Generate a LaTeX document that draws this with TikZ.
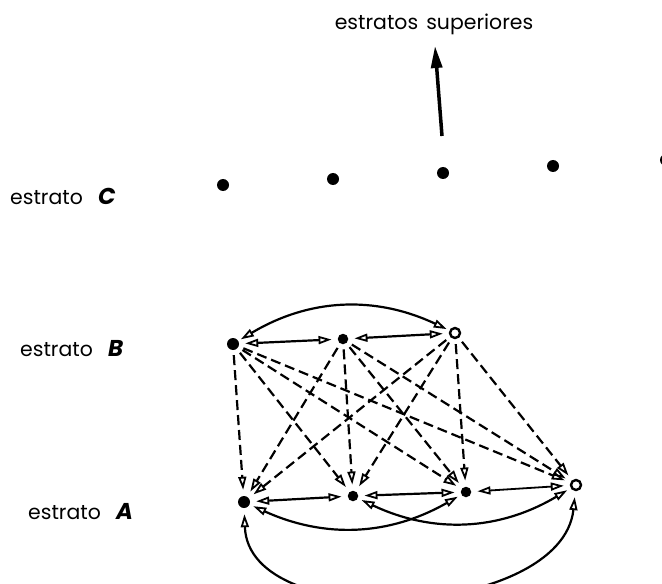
\documentclass[tikz,border=0pt]{standalone}
\usepackage{fontspec}
\setmainfont{Poppins}
\usetikzlibrary{arrows.meta}
\begin{document}
\begin{tikzpicture}[x=1bp,y=-1bp,
  dot/.style={circle,fill=black,inner sep=0pt,minimum size=12bp},
  sdot/.style={circle,fill=black,inner sep=0pt,minimum size=10.5bp},
  ring/.style={circle,draw=black,line width=2.4bp,fill=white,inner sep=0pt,minimum size=10bp},
  lbl/.style={font=\fontsize{20.5}{24}\selectfont,anchor=west,inner sep=0pt},
  ltr/.style={font=\fontsize{23}{24}\selectfont\bfseries\itshape},
  otip/.tip={Triangle[open,length=13bp,width=8bp,line width=1.8bp]},
  both/.style={line width=2.2bp,{otip}-{otip},shorten <=6bp,shorten >=6bp},
  dsh/.style={line width=2.2bp,dash pattern=on 10bp off 5bp,-{otip},shorten >=6bp,shorten <=5bp}
]
\useasboundingbox (0,0) rectangle (662,584);

% labels
\node[lbl] (lc) at (10,196) {estrato\hspace{0.75em}{\fontsize{23}{24}\selectfont\bfseries\itshape C}};
\node[lbl] (lb) at (20,349) {estrato\hspace{0.75em}{\fontsize{23}{24}\selectfont\bfseries\itshape B}};
\node[lbl] (la) at (28,512) {estrato\hspace{0.75em}{\fontsize{23}{24}\selectfont\bfseries\itshape A}};
\node[font=\fontsize{20.5}{24}\selectfont,inner sep=0pt] (sup) at (434,24) {estratos\hspace{0.4em}superiores};

% stratum C
\node[dot] (c1) at (223,185) {};
\node[dot] (c2) at (333,179) {};
\node[dot] (c3) at (443,173) {};
\node[dot] (c4) at (553,166) {};
\node[dot] (c5) at (666,160) {};

\coordinate (abase) at (442,136);
\coordinate (atip) at (435,46);
\draw[line width=3.5bp,-{Triangle[length=22bp,width=11bp]}] (abase) -- (atip);

% stratum B
\node[dot] (b1) at (233,344) {};
\node[sdot] (b2) at (343,339) {};
\node[ring] (b3) at (455,333) {};

% stratum A
\node[dot] (a1) at (244,502) {};
\node[sdot] (a2) at (353,496) {};
\node[sdot] (a3) at (466,492) {};
\node[ring] (a4) at (576,485) {};

% B edges
\draw[both] (b1) -- (b2);
\draw[both] (b2) -- (b3);
\draw[both,shorten <=3bp,shorten >=3bp] (b1) to[bend left=28] (b3);

% B -> A dashed
\foreach \b in {b1,b2,b3}{
  \foreach \a in {a1,a2,a3,a4}{
    \draw[dsh] (\b) -- (\a);
  }
}

% A edges
\draw[both] (a1) -- (a2);
\draw[both] (a2) -- (a3);
\draw[both,line width=1.8bp] (a3) -- (a4);
\draw[both,shorten <=4bp,shorten >=4bp] (a1) to[bend right=27] (a3);
\draw[both,shorten <=4bp,shorten >=4bp] (a2) to[bend right=28] (a4);
\draw[both,shorten <=6bp,shorten >=6bp] (a1) to[out=-88,in=-96,looseness=0.98] (a4);
\end{tikzpicture}
\end{document}
